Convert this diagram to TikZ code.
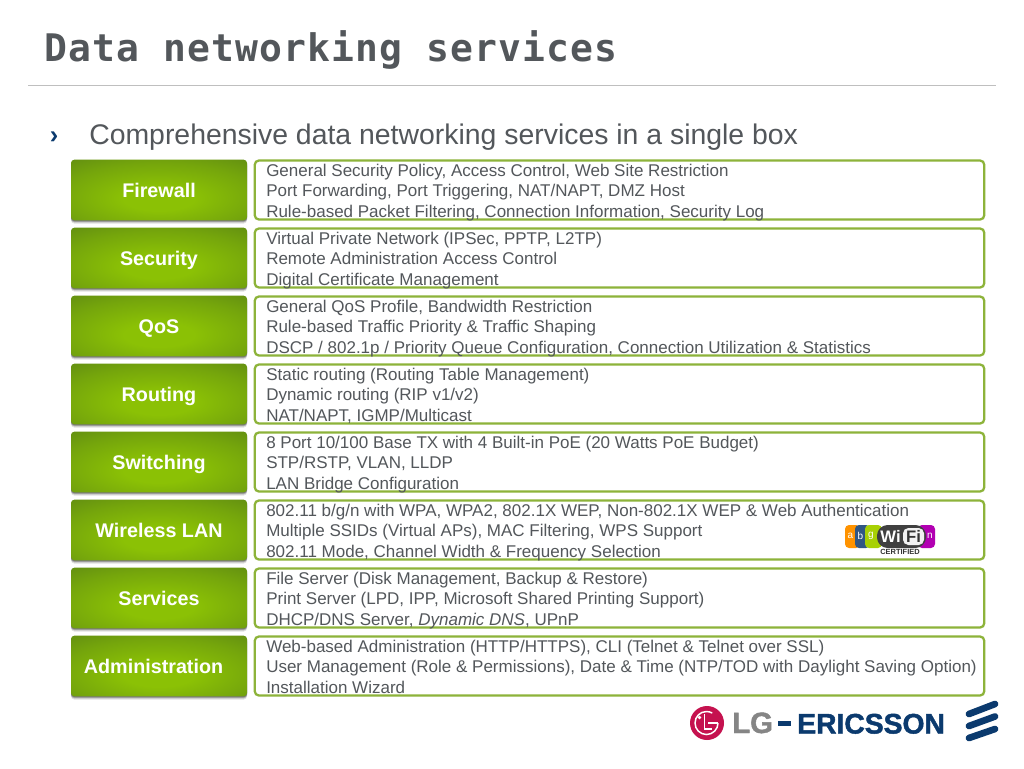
\documentclass[tikz,border=0pt]{standalone}
\usepackage{fontspec}
\setmainfont{Liberation Sans}
\newfontfamily\titlefont{DejaVu Sans Mono}[LetterSpace=3.05]
\newfontfamily\heavyfont{Liberation Sans Bold}[FakeBold=1.6]
\usetikzlibrary{shadows,calc}
\definecolor{lggreen}{HTML}{8BC105}
\definecolor{lgdark}{HTML}{5A8414}
\definecolor{boxline}{HTML}{8DB33A}
\definecolor{txt}{HTML}{53575B}
\definecolor{navy}{HTML}{0B3A6E}
\definecolor{lgred}{HTML}{C5124F}
\pgfdeclareradialshading{catshade}{\pgfpoint{0bp}{-8bp}}{%
  color(0bp)=(lggreen); color(10bp)=(lggreen); color(28bp)=(lgdark!45!lggreen);
  color(46bp)=(lgdark); color(100bp)=(lgdark)}
\tikzset{
  px/.style={x=0.75pt,y=-0.75pt},
  catbox/.style={rounded corners=2.5pt,minimum width=132pt,minimum height=45.5pt,
    inner sep=0pt,font=\fontsize{14.8}{18}\selectfont\bfseries,text=white,
    text height=10.6pt,text depth=0pt,shading=catshade,
    drop shadow={shadow xshift=0pt,shadow yshift=-2.4pt,opacity=.12,fill=black},
    drop shadow={shadow xshift=0pt,shadow yshift=-1.5pt,opacity=.22,fill=black},
    drop shadow={shadow xshift=0pt,shadow yshift=-.7pt,opacity=.3,fill=black}},
  detbox/.style={draw=boxline,line width=1.7pt,rounded corners=3pt,fill=white,
    minimum width=547pt,minimum height=44.2pt,inner sep=0pt},
  dettext/.style={anchor=west,inner sep=0pt,text=txt,align=left,
    font=\fontsize{12.75}{15.35}\selectfont,
    execute at begin node={\rule{0pt}{11pt}},
    execute at end node={\rule[-3.5pt]{0pt}{0pt}}},
  logoletter/.style={inner sep=0pt,font=\fontsize{7.5}{8}\selectfont}
}
\newcommand{\rowitem}[5]{%
  \node[catbox] (c#1) at (159,#2) {#3};
  \node[detbox] (d#1) at (619.5,#2) {};
  \node[dettext] (t#1) at (266,#2+2.8) {#4};
}
\begin{document}
\begin{tikzpicture}[px]
\useasboundingbox (0,0) rectangle (1024,768);
\fill[white] (0,0) rectangle (1024,768);
\node[anchor=base west,inner sep=0pt,text=txt,font=\titlefont\fontsize{28.5}{32}\selectfont\bfseries] (title) at (44,61) {Data networking services};
\coordinate (ruleL) at (28,85.5);
\coordinate (ruleR) at (996,85.5);
\draw[black!25,line width=.7pt] (ruleL) -- (ruleR);
\node[anchor=base west,inner sep=0pt,text=navy,font=\fontsize{19}{22}\selectfont\bfseries] (bullet) at (49.5,143) {›};
\node[anchor=base west,inner sep=0pt,text=txt,font=\fontsize{21.3}{24}\selectfont] (head) at (89,144) {Comprehensive data networking services in a single box};
\rowitem{1}{190}{Firewall}{General Security Policy, Access Control, Web Site Restriction\\Port Forwarding, Port Triggering, NAT/NAPT, DMZ Host\\Rule-based Packet Filtering, Connection Information, Security Log}{}
\rowitem{2}{258}{Security}{Virtual Private Network (IPSec, PPTP, L2TP)\\Remote Administration Access Control\\Digital Certificate Management}{}
\rowitem{3}{326}{QoS}{General QoS Profile, Bandwidth Restriction\\Rule-based Traffic Priority \& Traffic Shaping\\DSCP / 802.1p / Priority Queue Configuration, Connection Utilization \& Statistics}{}
\rowitem{4}{394}{Routing}{Static routing (Routing Table Management)\\Dynamic routing (RIP v1/v2)\\NAT/NAPT, IGMP/Multicast}{}
\rowitem{5}{462}{Switching}{8 Port 10/100 Base TX with 4 Built-in PoE (20 Watts PoE Budget)\\STP/RSTP, VLAN, LLDP\\LAN Bridge Configuration}{}
\rowitem{6}{530}{Wireless LAN}{802.11 b/g/n with WPA, WPA2, 802.1X WEP, Non-802.1X WEP \& Web Authentication\\Multiple SSIDs (Virtual APs), MAC Filtering, WPS Support\\802.11 Mode, Channel Width \& Frequency Selection}{}
\rowitem{7}{598}{Services}{File Server (Disk Management, Backup \& Restore)\\Print Server (LPD, IPP, Microsoft Shared Printing Support)\\DHCP/DNS Server, \textit{Dynamic DNS}, UPnP}{}
\rowitem{8}{666}{Administration\rule{8.2pt}{0pt}}{Web-based Administration (HTTP/HTTPS), CLI (Telnet \& Telnet over SSL)\\User Management (Role \& Permissions), Date \& Time (NTP/TOD with Daylight Saving Option)\\Installation Wizard}{}
% Wi-Fi logo
\fill[orange!85!yellow,rounded corners=3pt] (845,525) rectangle (860,548);
\fill[navy!85,rounded corners=3pt] (855,525) rectangle (870,548);
\fill[lggreen!75!yellow,rounded corners=3pt] (865,525) rectangle (882,548);
\fill[violet!60!magenta,rounded corners=3pt] (918,525) rectangle (935,548);
\fill[black!75,rounded corners=8pt] (877,525) rectangle (926,548);
\fill[black!5,rounded corners=4pt] (903,528) rectangle (924,545);
\node[logoletter,text=white] (la) at (850.5,536) {a};
\node[logoletter,text=white] (lb) at (860.5,536) {b};
\node[logoletter,text=white] (lg2) at (871,536) {g};
\node[logoletter,text=white] (ln) at (930,536) {n};
\node[inner sep=0pt,text=white,font=\fontsize{12.5}{13}\selectfont\bfseries] (wi) at (890.5,536.5) {Wi};
\node[inner sep=0pt,text=black!80,font=\fontsize{12.5}{13}\selectfont\bfseries] (fi) at (913.5,536.5) {Fi};
\node[inner sep=0pt,text=black!80,font=\fontsize{5.6}{6}\selectfont\bfseries] (cert) at (900,552) {CERTIFIED};
% LG logo
\fill[lgred] (707,723) circle (17);
\draw[white,line width=1.1pt] (718,723) arc (0:300:11.5);
\draw[white,line width=1.1pt] (718,723) -- (708,723);
\draw[white,line width=1.3pt] (704.5,714) -- (704.5,729) -- (712,729);
\fill[white] (699.5,717.5) circle (1.8);
\node[anchor=base west,inner sep=0pt,text=black!48,font=\heavyfont\fontsize{22}{24}\selectfont] (lg) at (732,733) {LG};
\node[anchor=base west,inner sep=0pt,text=navy,font=\heavyfont\fontsize{21.2}{24}\selectfont] (eric) at (797,733.5) {ERICSSON};
\coordinate (dashL) at (778,723.5);
\coordinate (dashR) at (791,723.5);
\draw[navy,line width=3.2pt] (dashL) -- (dashR);
\draw[navy,line width=5pt,line cap=round] (969,714) -- (995,704);
\draw[navy,line width=5pt,line cap=round] (969,726) -- (995,716.5);
\draw[navy,line width=5pt,line cap=round] (969,738) -- (995,729);
\end{tikzpicture}
\end{document}
